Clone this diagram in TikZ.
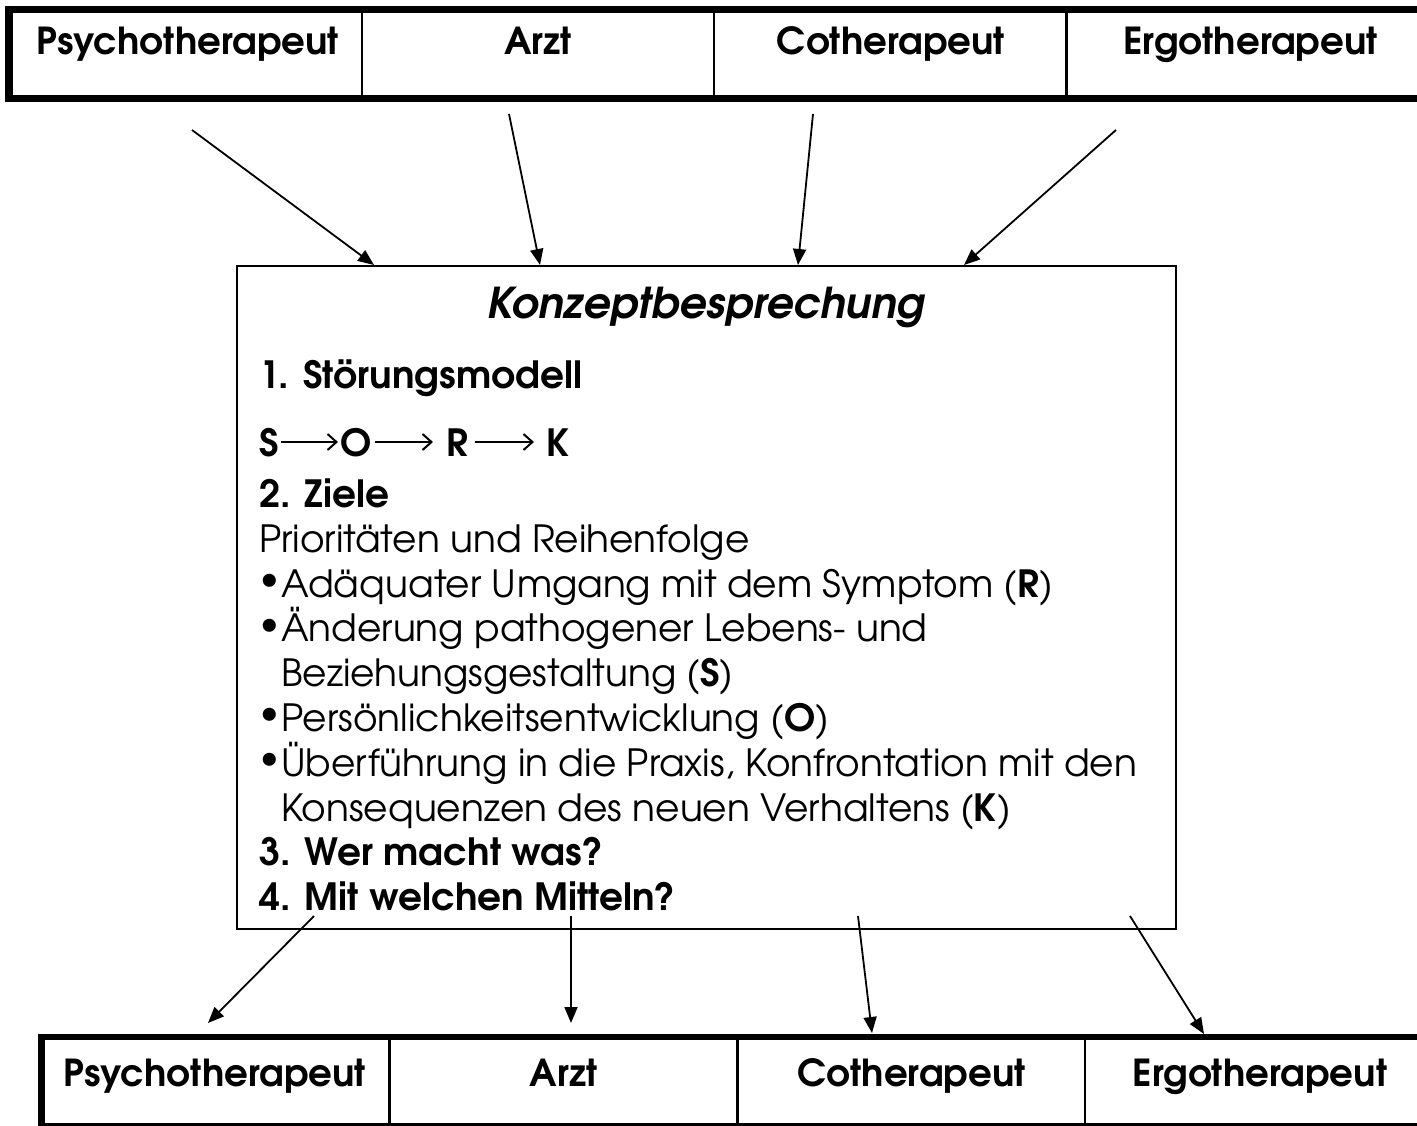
\documentclass[tikz,border=0pt]{standalone}
\usepackage{fontspec}
\setmainfont{TeX Gyre Adventor}
\newfontfamily\bulletfont{DejaVu Sans}
\usetikzlibrary{arrows.meta}
\begin{document}
\begin{tikzpicture}[x=1pt,y=-1pt,
  hdr/.style={font=\fontsize{37.2}{44}\selectfont\bfseries, anchor=base, inner sep=0pt},
  txt/.style={font=\fontsize{37.5}{45}\selectfont, anchor=base west, inner sep=0pt},
  btxt/.style={font=\fontsize{37.5}{45}\selectfont\bfseries, anchor=base west, inner sep=0pt},
  bul/.style={font=\fontsize{45}{50}\selectfont\bulletfont, anchor=center, inner sep=0pt},
  ttl/.style={font=\fontsize{42.5}{50}\selectfont\bfseries\itshape, anchor=base, inner sep=0pt},
  thickline/.style={line width=6.5pt},
  sepline/.style={line width=2.5pt},
  conn/.style={line width=1.8pt, -{Triangle[length=16pt,width=13pt]}},
  seq/.style={line width=2pt, -{Straight Barb[length=9pt,width=16pt,line width=2pt]}},
]
\useasboundingbox (0,0) rectangle (1417,1126);
% top table
\draw[thickline] (8.5,9.5) -- (1430,9.5);
\draw[thickline] (8.5,98.5) -- (1430,98.5);
\draw[line width=8pt] (8.5,6.25) -- (8.5,101.75);
\foreach \x in {362,714,1066.5} \draw[sepline] (\x,9.5) -- (\x,98.5);
\node[hdr] (t1) at (187.5,55) {Psychotherapeut};
\node[hdr] (t2) at (538,55) {Arzt};
\node[hdr] (t3) at (891,55) {Cotherapeut};
\node[hdr] (t4) at (1250.5,55) {Ergotherapeut};
% bottom table
\draw[thickline] (41.5,1037) -- (1430,1037);
\draw[sepline] (41.5,1124.5) -- (1430,1124.5);
\draw[line width=7pt] (41.5,1033.75) -- (41.5,1126);
\foreach \x in {389.5,737.5,1085} \draw[sepline] (\x,1037) -- (\x,1124.5);
\node[hdr] (b1) at (214.5,1086) {Psychotherapeut};
\node[hdr] (b2) at (563.5,1086) {Arzt};
\node[hdr] (b3) at (911.5,1086) {Cotherapeut};
\node[hdr] (b4) at (1260,1086) {Ergotherapeut};
% central box
\node[draw, line width=1.8pt, inner sep=0pt, minimum width=939pt, minimum height=663pt] (box) at (706.5,597.5) {};
\node[ttl] (title) at (706,319) {Konzeptbesprechung};
\node[btxt] (l1) at (259,388) {1. Störungsmodell};
\node[btxt] (sS) at (259,456) {S};
\node[btxt] (sO) at (340,456) {O};
\node[btxt] (sR) at (446,456) {R};
\node[btxt] (sK) at (546,456) {K};
\coordinate (a1s) at (281,442); \coordinate (a1e) at (338,442);
\coordinate (a2s) at (375,442); \coordinate (a2e) at (433,442);
\coordinate (a3s) at (475,442); \coordinate (a3e) at (534,442);
\draw[seq] (a1s) -- (a1e);
\draw[seq] (a2s) -- (a2e);
\draw[seq] (a3s) -- (a3e);
\node[btxt] (l3) at (259,507) {2. Ziele};
\node[txt] (l4) at (259,552) {Prioritäten und Reihenfolge};
\node[bul] (u1) at (270,586) {•};
\node[txt] (l5) at (281,597) {Adäquater Umgang mit dem Symptom (\textbf{R})};
\node[bul] (u2) at (270,630.5) {•};
\node[txt] (l6) at (281,641.5) {Änderung pathogener Lebens- und};
\node[txt] (l7) at (281,686) {Beziehungsgestaltung (\textbf{S})};
\node[bul] (u3) at (270,720) {•};
\node[txt] (l8) at (281,731) {Persönlichkeitsentwicklung (\textbf{O})};
\node[bul] (u4) at (270,765) {•};
\node[txt] (l9) at (281,776) {Überführung in die Praxis, Konfrontation mit den};
\node[txt] (l10) at (281,821) {Konsequenzen des neuen Verhaltens (\textbf{K})};
\node[btxt] (l11) at (259,865) {3. Wer macht was?};
\node[btxt] (l12) at (259,910) {4. Mit welchen Mitteln?};
% connectors
\coordinate (s1) at (192,130); \coordinate (e1) at (374,265);
\coordinate (s2) at (509,114); \coordinate (e2) at (540,265);
\coordinate (s3) at (813,114); \coordinate (e3) at (798,265);
\coordinate (s4) at (1116,130); \coordinate (e4) at (964,265);
\draw[conn] (s1) -- (e1);
\draw[conn] (s2) -- (e2);
\draw[conn] (s3) -- (e3);
\draw[conn] (s4) -- (e4);
\coordinate (f1) at (314,916); \coordinate (g1) at (208,1023);
\coordinate (f2) at (571,916); \coordinate (g2) at (571,1023);
\coordinate (f3) at (858,916); \coordinate (g3) at (872,1033);
\coordinate (f4) at (1130,916); \coordinate (g4) at (1204,1034);
\draw[conn] (f1) -- (g1);
\draw[conn] (f2) -- (g2);
\draw[conn] (f3) -- (g3);
\draw[conn] (f4) -- (g4);
\end{tikzpicture}
\end{document}
